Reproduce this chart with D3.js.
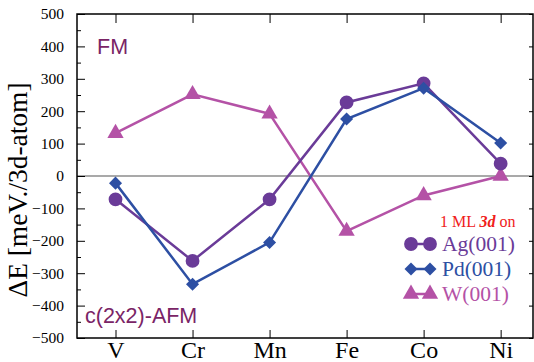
<!DOCTYPE html>
<html>
<head>
<meta charset="utf-8">
<script src="https://cdn.jsdelivr.net/npm/d3@7"></script>
<style>
  html, body { margin: 0; padding: 0; background: #fff; }
  svg { display: block; }
</style>
</head>
<body>
<svg id="chart" width="534" height="362"></svg>
<script>
// 3d transition metals along the row
const elements = ["V", "Cr", "Mn", "Fe", "Co", "Ni"];

// Energy difference FM vs c(2x2)-AFM, meV per 3d atom
const agValues = [-72, -262, -72, 227, 286, 38];
const pdValues = [-22, -334, -205, 176, 271, 102];
const wValues  = [132, 252, 192, -170, -60, 0];

const seriesNames = ["Ag(001)", "Pd(001)", "W(001)"];
const yTicks = [-500, -400, -300, -200, -100, 0, 100, 200, 300, 400, 500];

const colors = { ag: "#6a3b98", pd: "#2d4fa3", w: "#b452a6" };
const labelColor = "#7a2466";

const svg = d3.select("#chart");
const plot = { left: 77, right: 533, top: 14, bottom: 338 };

const x = d3.scaleLinear().domain([-0.5, 5.42]).range([plot.left, plot.right]);
const y = d3.scaleLinear().domain([-500, 500]).range([plot.bottom, plot.top]);

const serif = "'Liberation Serif', 'Times New Roman', serif";
const sans = "'Liberation Sans', Arial, sans-serif";
const minus = s => String(s).replace("-", "\u2212");

// zero reference line
svg.append("line")
  .attr("x1", plot.left).attr("x2", plot.right)
  .attr("y1", y(0)).attr("y2", y(0))
  .attr("stroke", "#555").attr("stroke-width", 1.2);

// frame
svg.append("rect")
  .attr("x", plot.left).attr("y", plot.top)
  .attr("width", plot.right - plot.left).attr("height", plot.bottom - plot.top)
  .attr("fill", "none").attr("stroke", "#000").attr("stroke-width", 1.5);

// left axis: inward major ticks with labels, minor ticks at 50s
const leftAxis = d3.axisLeft(y).tickValues(yTicks).tickSize(-8).tickPadding(13).tickFormat(d => minus(d));
const gLeft = svg.append("g").attr("transform", `translate(${plot.left},0)`).call(leftAxis);
gLeft.attr("font-family", null).attr("font-size", null);
gLeft.select(".domain").remove();
gLeft.selectAll(".tick line").attr("stroke", "#000").attr("stroke-width", 1);
gLeft.selectAll(".tick text")
  .style("font-family", serif).style("font-size", "15.5px").attr("fill", "#000");

const minorTicks = d3.range(-450, 500, 100);
const gMinor = svg.append("g").attr("transform", `translate(${plot.left},0)`)
  .call(d3.axisLeft(y).tickValues(minorTicks).tickSize(-4).tickFormat(""));
gMinor.select(".domain").remove();
gMinor.selectAll(".tick line").attr("stroke", "#000");

// right axis: inward major ticks only
const gRight = svg.append("g").attr("transform", `translate(${plot.right},0)`)
  .call(d3.axisRight(y).tickValues(yTicks).tickSize(-4).tickFormat(""));
gRight.select(".domain").remove();
gRight.selectAll(".tick line").attr("stroke", "#000");

// bottom axis with element labels
const xIdx = d3.range(elements.length);
const gBottom = svg.append("g").attr("transform", `translate(0,${plot.bottom})`)
  .call(d3.axisBottom(x).tickValues(xIdx).tickSize(-8).tickPadding(3).tickFormat(i => elements[i]));
gBottom.attr("font-family", null).attr("font-size", null);
gBottom.select(".domain").remove();
gBottom.selectAll(".tick line").attr("stroke", "#000");
gBottom.selectAll(".tick text")
  .style("font-family", serif).style("font-size", "24px").attr("fill", "#000");

// top axis ticks
const gTop = svg.append("g").attr("transform", `translate(0,${plot.top})`)
  .call(d3.axisTop(x).tickValues(xIdx).tickSize(-9).tickFormat(""));
gTop.select(".domain").remove();
gTop.selectAll(".tick line").attr("stroke", "#000");

// y axis title
svg.append("text")
  .attr("transform", `translate(27,${(plot.top + plot.bottom) / 2 + 14}) rotate(-90)`)
  .attr("text-anchor", "middle")
  .attr("textLength", 215).attr("lengthAdjust", "spacingAndGlyphs")
  .style("font-family", serif).style("font-size", "27px").attr("fill", "#000")
  .text("\u0394E [meV./3d-atom]");

// series
const series = [
  { key: "ag", values: agValues, symbol: d3.symbolCircle, size: 150, rotate: 0 },
  { key: "pd", values: pdValues, symbol: d3.symbolSquare, size: 85, rotate: 45 },
  { key: "w",  values: wValues,  symbol: d3.symbolTriangle, size: 115, rotate: 0 }
];

const line = d3.line().x((d, i) => x(i)).y(d => y(d));

// draw W first so the Ag/Pd curves sit above it
[series[2], series[0], series[1]].forEach(s => {
  svg.append("path")
    .datum(s.values)
    .attr("d", line)
    .attr("fill", "none")
    .attr("stroke", colors[s.key])
    .attr("stroke-width", 2.5);
  svg.append("g").selectAll("path")
    .data(s.values)
    .join("path")
    .attr("d", d3.symbol().type(s.symbol).size(s.size))
    .attr("transform", (d, i) => `translate(${x(i)},${y(d)}) rotate(${s.rotate})`)
    .attr("fill", colors[s.key]);
});

// phase labels
svg.append("text").attr("x", 97).attr("y", 54)
  .style("font-family", sans).style("font-size", "21.5px").attr("fill", labelColor)
  .text("FM");
svg.append("text").attr("x", 85).attr("y", 323)
  .style("font-family", sans).style("font-size", "21.5px").attr("fill", labelColor)
  .text("c(2x2)-AFM");

// legend
const legendTitle = svg.append("text").attr("x", 440).attr("y", 227)
  .style("font-family", serif).style("font-size", "16px").attr("fill", "#f0201a");
legendTitle.append("tspan").text("1 ML ");
legendTitle.append("tspan").attr("font-weight", "bold").attr("font-style", "italic").text("3d");
legendTitle.append("tspan").text(" on");

series.forEach((s, k) => {
  const cy = 244 + k * 25;
  const g = svg.append("g");
  g.append("line").attr("x1", 411).attr("x2", 430).attr("y1", cy).attr("y2", cy)
    .attr("stroke", colors[s.key]).attr("stroke-width", 2.5);
  [411, 430].forEach(cx => {
    g.append("path")
      .attr("d", d3.symbol().type(s.symbol).size(s.size)())
      .attr("transform", `translate(${cx},${cy}) rotate(${s.rotate})`)
      .attr("fill", colors[s.key]);
  });
  g.append("text").attr("x", 442).attr("y", cy + 7)
    .style("font-family", serif).style("font-size", "21.5px").attr("fill", colors[s.key])
    .text(seriesNames[k]);
});
</script>
</body>
</html>
